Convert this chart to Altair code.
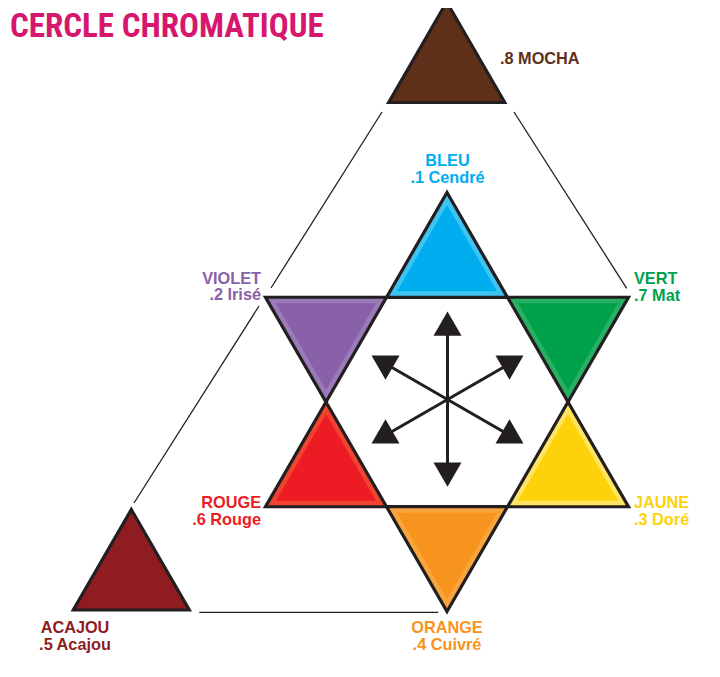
import altair as alt
import pandas as pd

TITLE = "CERCLE CHROMATIQUE"

# colour families of the wheel
names = ["BLEU", "VIOLET", "VERT", "ROUGE", "JAUNE", "ORANGE", "MOCHA", "ACAJOU"]
codes = [".1 Cendré", ".2 Irisé", ".7 Mat", ".6 Rouge", ".3 Doré", ".4 Cuivré", ".8 MOCHA", ".5 Acajou"]
core_col = ["#00aeef", "#8961a9", "#00a14b", "#ed1c24", "#fdd20a", "#f7941d", "#5e301a", "#8e1c20"]
band_col = ["#3ec3f2", "#9b7ab9", "#27b064", "#f04430", "#ffe461", "#f9a53d", "#5e301a", "#8e1c20"]
text_col = ["#00aeef", "#8961a9", "#00a14b", "#ed1c24", "#fdd20a", "#f7941d", "#5e301a", "#8e1c20"]
pointing = ["up", "down", "down", "up", "up", "down", "up", "up"]
banded = [1, 1, 1, 1, 1, 1, 0, 0]

# diagram coordinates (triangle centroids) and triangle side
tri_x = [447, 326, 568, 326, 568, 447, 446.7, 131.3]
tri_y = [262.4, 332.2, 332.2, 471.8, 471.8, 541.6, 69, 576.5]
tri_side = [121, 121, 121, 121, 121, 121, 116, 116]

# label anchors
label_x = [447.5, 261, 634, 261, 634, 447, 500, 75]
label_y = [166, 283.5, 284, 508.3, 508.3, 633, 64, 633]
label_align = ["center", "right", "left", "right", "left", "center", "left", "center"]

# central arrows
arrow_cx, arrow_cy = 447.5, 399.5
arrow_x = [447.5, 509.5, 385.5, 385.5, 447.5, 509.5]
arrow_y = [327.7, 363.7, 363.7, 435.3, 470.7, 435.3]
arrow_head = ["up", "down", "down", "up", "down", "up"]

# thin connecting lines
seg_x1 = [382, 259, 514, 199.3]
seg_y1 = [112, 306, 112, 612.3]
seg_x2 = [271, 134, 626.7, 438.3]
seg_y2 = [288, 503, 288.3, 612.3]

UP = "M0,-1.1547L1,0.5774L-1,0.5774Z"
DOWN = "M0,1.1547L1,-0.5774L-1,-0.5774Z"

tri = pd.DataFrame({
    "name": names, "core": core_col, "band": band_col, "dir": pointing,
    "banded": banded, "x": tri_x, "y": tri_y, "side": tri_side,
})
tri["outer_size"] = tri["side"] ** 2
tri["inner_size"] = (tri["side"] - 21) ** 2

rows = []
for i in range(len(names)):
    if names[i] == "MOCHA":
        rows.append({"t": codes[i], "x": label_x[i], "y": label_y[i], "a": label_align[i], "c": text_col[i]})
    else:
        rows.append({"t": names[i], "x": label_x[i], "y": label_y[i], "a": label_align[i], "c": text_col[i]})
        rows.append({"t": codes[i], "x": label_x[i], "y": label_y[i] + 16.5, "a": label_align[i], "c": text_col[i]})
labels = pd.DataFrame(rows)

arrows = pd.DataFrame({"x": arrow_x, "y": arrow_y, "dir": arrow_head,
                       "x0": [arrow_cx] * 6, "y0": [arrow_cy] * 6})
segs = pd.DataFrame({"x": seg_x1, "y": seg_y1, "x2": seg_x2, "y2": seg_y2})
title_df = pd.DataFrame({"t": [TITLE], "x": [10], "y": [37.3]})

X = alt.X("x:Q", scale=alt.Scale(domain=[8, 712]), axis=None)
Y = alt.Y("y:Q", scale=alt.Scale(domain=[669, 8]), axis=None)
shape_scale = alt.Scale(domain=["up", "down"], range=[UP, DOWN])

lines = alt.Chart(segs).mark_rule(color="#231f20", strokeWidth=1.3).encode(
    x=X, y=Y, x2="x2:Q", y2="y2:Q")

outer = alt.Chart(tri).mark_point(filled=True, opacity=1, fillOpacity=1,
                                  stroke="#231f20", strokeWidth=3.2,
                                  strokeOpacity=1).encode(
    x=X, y=Y,
    shape=alt.Shape("dir:N", scale=shape_scale, legend=None),
    size=alt.Size("outer_size:Q", scale=None),
    fill=alt.Fill("band:N", scale=None),
)

inner = alt.Chart(tri).transform_filter("datum.banded == 1").mark_point(
    filled=True, opacity=1, fillOpacity=1, strokeWidth=0).encode(
    x=X, y=Y,
    shape=alt.Shape("dir:N", scale=shape_scale, legend=None),
    size=alt.Size("inner_size:Q", scale=None),
    fill=alt.Fill("core:N", scale=None),
)

shafts = alt.Chart(arrows).mark_rule(color="#231f20", strokeWidth=3).encode(
    x=alt.X("x0:Q", scale=alt.Scale(domain=[8, 712]), axis=None),
    y=alt.Y("y0:Q", scale=alt.Scale(domain=[669, 8]), axis=None),
    x2="x:Q", y2="y:Q")

heads = alt.Chart(arrows).mark_point(filled=True, opacity=1, fillOpacity=1,
                                     strokeWidth=0, color="#231f20").encode(
    x=X, y=Y,
    shape=alt.Shape("dir:N", scale=shape_scale, legend=None),
    size=alt.value(784),
)

text_layers = []
for al in ["left", "center", "right"]:
    text_layers.append(
        alt.Chart(labels).transform_filter(f"datum.a == '{al}'").mark_text(
            font="Liberation Sans", fontWeight="bold", fontSize=16.3,
            baseline="alphabetic", align=al).encode(
            x=X, y=Y, text="t:N",
            color=alt.Color("c:N", scale=None),
        )
    )

title = alt.Chart(title_df).mark_text(
    font="'Roboto Condensed', 'DejaVu Sans Condensed', Roboto",
    fontWeight="bold", fontSize=33, align="left", baseline="alphabetic",
    color="#d5176e").encode(x=X, y=Y, text="t:N")

chart = alt.layer(lines, outer, inner, shafts, heads, *text_layers, title).properties(
    width=704, height=661, padding=0, autosize="none"
).configure_view(stroke=None)

chart.save("out.html", embed_options={"renderer": "svg", "actions": False})
